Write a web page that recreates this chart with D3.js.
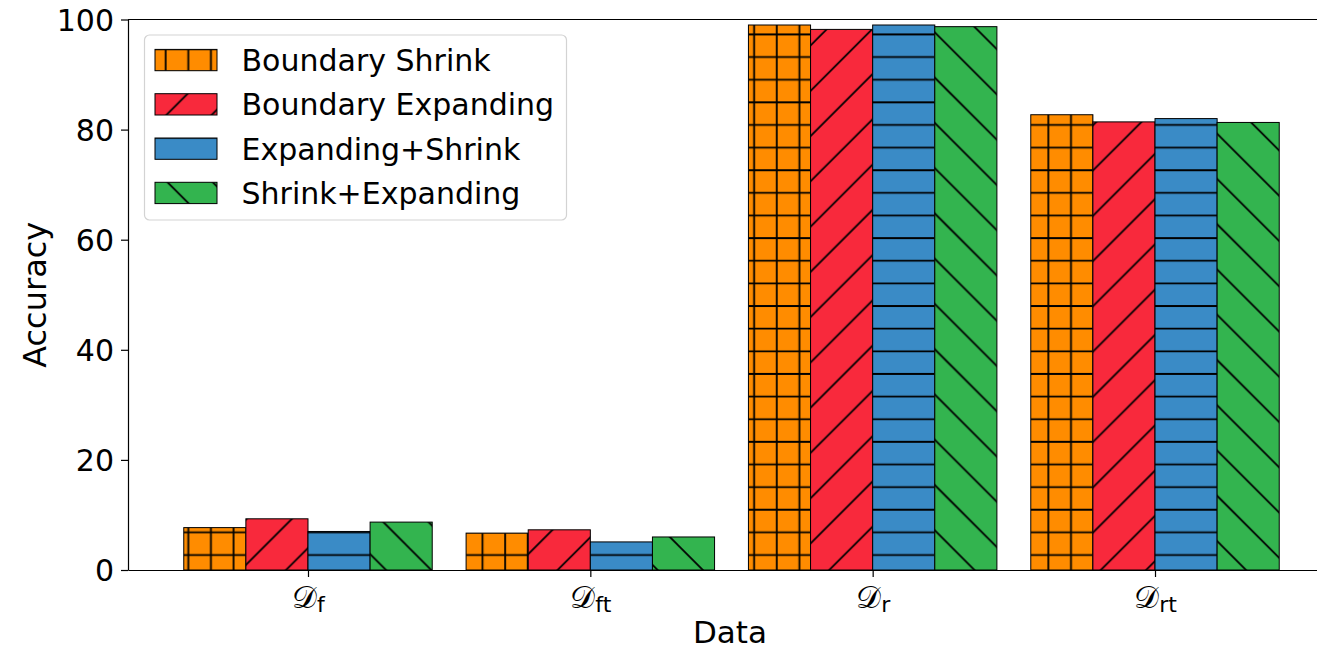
<!DOCTYPE html>
<html>
<head>
<meta charset="utf-8">
<script src="https://cdn.jsdelivr.net/npm/d3@7"></script>
<style>
  body { margin: 0; background: #fff; }
  text { font-family: "DejaVu Sans", sans-serif; fill: #000; }
</style>
</head>
<body>
<div id="chart"></div>
<script>
// data
var categories = ["f", "ft", "r", "rt"];          // subscripts of the D labels
var seriesNames = ["Boundary Shrink", "Boundary Expanding", "Expanding+Shrink", "Shrink+Expanding"];
var boundaryShrink    = [7.7, 6.7, 99.0, 82.7];
var boundaryExpanding = [9.3, 7.3, 98.2, 81.4];
var expandingShrink   = [7.0, 5.1, 99.0, 82.0];
var shrinkExpanding   = [8.7, 6.0, 98.7, 81.3];
var yTicks = [0, 20, 40, 60, 80, 100];

var seriesValues = [boundaryShrink, boundaryExpanding, expandingShrink, shrinkExpanding];
var colors = ["#ff8c00", "#f8293c", "#3a8bc6", "#33b44f"];
var hatches = ["+", "/", "-", "\\"];

var W = 1317, H = 651;
var plotLeft = 128, plotTop = 19.5, plotBottom = 570, plotRight = 1335;
var barW = 0.22;

var svg = d3.select("#chart")
  .append("svg")
    .attr("width", W)
    .attr("height", H);

var x = d3.scaleLinear()
  .domain([-0.6375, 3.6375])
  .range([plotLeft, plotRight]);

var y = d3.scaleLinear()
  .domain([0, 100])
  .range([plotBottom, plotTop]);

// hatch patterns, matplotlib style: one big tile holding 6 lines, anchored to the canvas
var defs = svg.append("defs");
var tile = 135.8, n = 6, step = tile / n, e = 4;

hatches.forEach(function(h, i) {
  var p = defs.append("pattern")
    .attr("id", "hatch" + i)
    .attr("patternUnits", "userSpaceOnUse")
    .attr("width", tile).attr("height", tile);
  var px = 0, py = 0, d = "", k, c;
  if (h == "+" || h == "-") {
    px = (188.3 % step) - step / 2;
    py = (555 % step) - step / 2;
    for (k = 0; k < n; k++) {
      c = step / 2 + k * step;
      d += "M0," + c + "H" + tile;
      if (h == "+") d += "M" + c + ",0V" + tile;
    }
  } else if (h == "/") {
    // lines x + y = c, every 2 steps
    var b1 = 1354 % (2 * step);
    for (k = -1; k <= n / 2 * 2 + 1; k++) {
      c = b1 + k * 2 * step;
      d += "M" + (c + e) + "," + (-e) + "L" + (c - tile - e) + "," + (tile + e);
    }
  } else {
    // lines x - y = c, every 2 steps
    var b2 = 495 % (2 * step);
    for (k = -4; k <= 4; k++) {
      c = b2 + k * 2 * step;
      d += "M" + (c - e) + "," + (-e) + "L" + (c + tile + e) + "," + (tile + e);
    }
  }
  p.attr("x", px).attr("y", py);
  p.append("rect").attr("width", tile).attr("height", tile).attr("fill", colors[i]);
  p.append("path").attr("d", d).attr("stroke", "#000").attr("stroke-width", 1.8).attr("fill", "none");
});

// bars
seriesValues.forEach(function(vals, s) {
  svg.append("g")
    .selectAll("rect")
    .data(vals)
    .enter()
    .append("rect")
      .attr("x", function(d, i) { return x(i + (s - 2) * barW); })
      .attr("y", function(d) { return y(d); })
      .attr("width", x(barW) - x(0))
      .attr("height", function(d) { return plotBottom - y(d); })
      .attr("fill", "url(#hatch" + s + ")")
      .attr("stroke", "#000")
      .attr("stroke-width", 1);
});

// axes
var yAxis = svg.append("g")
  .attr("transform", "translate(" + plotLeft + ",0)")
  .call(d3.axisLeft(y).tickValues(yTicks).tickSize(7).tickPadding(7).tickSizeOuter(0));
yAxis.selectAll("text").style("font-size", "30px").attr("dy", "0.36em");

var xAxis = svg.append("g")
  .attr("transform", "translate(0," + plotBottom + ")")
  .call(d3.axisBottom(x).tickValues(d3.range(categories.length)).tickSize(7).tickSizeOuter(0).tickFormat(""));

xAxis.selectAll(".tick").append("text")
  .attr("y", 38)
  .attr("text-anchor", "middle")
  .each(function(d, i) {
    var t = d3.select(this);
    t.append("tspan").style("font-size", "31px").text("\uD835\uDC9F");
    t.append("tspan").attr("dy", 4).style("font-size", "22px").text(categories[i]);
  });

svg.selectAll(".domain, .tick line").attr("stroke", "#000").attr("stroke-width", 1.2);

// top and right spines
svg.append("line")
  .attr("x1", plotLeft).attr("x2", plotRight)
  .attr("y1", plotTop).attr("y2", plotTop)
  .attr("stroke", "#000").attr("stroke-width", 1.2);
svg.append("line")
  .attr("x1", plotRight).attr("x2", plotRight)
  .attr("y1", plotTop).attr("y2", plotBottom)
  .attr("stroke", "#000").attr("stroke-width", 1.2);

// axis labels
svg.append("text")
  .attr("x", 730)
  .attr("y", 643)
  .attr("text-anchor", "middle")
  .style("font-size", "31px")
  .text("Data");

svg.append("text")
  .attr("transform", "translate(46," + (plotTop + plotBottom) / 2 + ") rotate(-90)")
  .attr("text-anchor", "middle")
  .style("font-size", "32px")
  .text("Accuracy");

// legend
var legend = svg.append("g");
legend.append("rect")
  .attr("x", 144.5).attr("y", 35)
  .attr("width", 422).attr("height", 185)
  .attr("rx", 5)
  .attr("fill", "#fff").attr("fill-opacity", 0.8)
  .attr("stroke", "#d3d3d3").attr("stroke-width", 1.2);

var rows = legend.selectAll(".row")
  .data(seriesNames)
  .enter()
  .append("g")
    .attr("transform", function(d, i) { return "translate(0," + (60 + i * 44.3) + ")"; });

rows.append("rect")
  .attr("x", 155).attr("y", -10.6)
  .attr("width", 62).attr("height", 21.3)
  .attr("fill", function(d, i) { return "url(#hatch" + i + ")"; })
  .attr("stroke", "#000").attr("stroke-width", 1);

rows.append("text")
  .attr("x", 241.5)
  .attr("y", 11)
  .style("font-size", "30px")
  .text(function(d) { return d; });
</script>
</body>
</html>
